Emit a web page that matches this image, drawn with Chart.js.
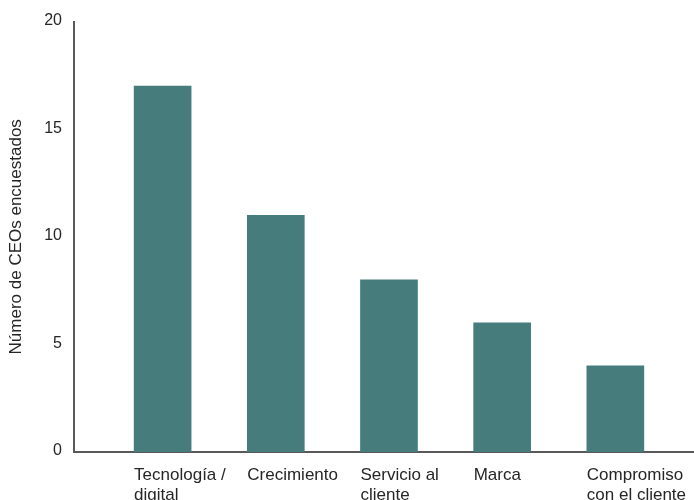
<!DOCTYPE html>
<html>
<head>
<meta charset="utf-8">
<script src="https://cdn.jsdelivr.net/npm/chart.js@4"></script>
<style>
  html, body { margin: 0; padding: 0; background: #fff; }
  #wrap { width: 694px; height: 500px; }
</style>
</head>
<body>
<div id="wrap"><canvas id="ceoChart" width="694" height="500"></canvas></div>
<script>
// --- Data ---
const categories = [
  ["Tecnología /", "digital"],
  ["Crecimiento"],
  ["Servicio al", "cliente"],
  ["Marca"],
  ["Compromiso", "con el cliente"]
];
const ceoCounts = [17, 11, 8, 6, 4];
const yTicks = [0, 5, 10, 15, 20];
const yTitle = "Número de CEOs encuestados";

const barColor = "#467c7c";
const axisColor = "#595959";
const textColor = "#262626";
const fontFamily = "'Liberation Sans', Arial, sans-serif";

// bars sit on a numeric x axis so the plot can start right at the y axis line
const BAR_PX = 57;
const halfBar = 0.252; // half a bar, in category units

const points = ceoCounts.map((v, i) => ({ x: i + 1, y: v }));

Chart.defaults.font.family = fontFamily;
Chart.defaults.color = textColor;

const ctx = document.getElementById("ceoChart").getContext("2d");
new Chart(ctx, {
  type: "bar",
  data: {
    datasets: [{
      data: points,
      backgroundColor: barColor,
      borderWidth: 0,
      barThickness: BAR_PX
    }]
  },
  options: {
    responsive: false,
    animation: false,
    layout: { padding: { top: 9, right: 0, bottom: 0, left: 0 } },
    plugins: { legend: { display: false }, tooltip: { enabled: false } },
    scales: {
      x: {
        type: "linear",
        offset: false,
        min: 0.217,
        max: 5.695,
        grid: { display: false, drawTicks: false },
        border: { display: true, color: axisColor, width: 2 },
        afterBuildTicks: s => {
          // one label per bar, anchored at the bar's left edge
          s.ticks = categories.map((c, i) => ({ value: i + 1 - halfBar }));
        },
        afterFit: s => {
          s.height = 48;
          // let the axis line run to the right edge
          s.paddingLeft = 0;
          s.paddingRight = 0;
        },
        ticks: {
          align: "start",
          padding: 13,
          autoSkip: false,
          maxRotation: 0,
          font: { size: 17, lineHeight: 1.2 },
          callback: (val, idx) => categories[idx]
        }
      },
      y: {
        min: 0,
        max: 20,
        grid: { display: false, drawTicks: false },
        border: { display: true, color: axisColor, width: 2 },
        afterBuildTicks: s => {
          s.ticks = yTicks.map(v => ({ value: v }));
        },
        afterFit: s => { s.width = 74; },
        ticks: { padding: 12, labelOffset: -1, font: { size: 16 } },
        title: {
          display: true,
          text: yTitle,
          font: { size: 17 },
          padding: { top: 6, bottom: 0 }
        }
      }
    }
  }
});
</script>
</body>
</html>
